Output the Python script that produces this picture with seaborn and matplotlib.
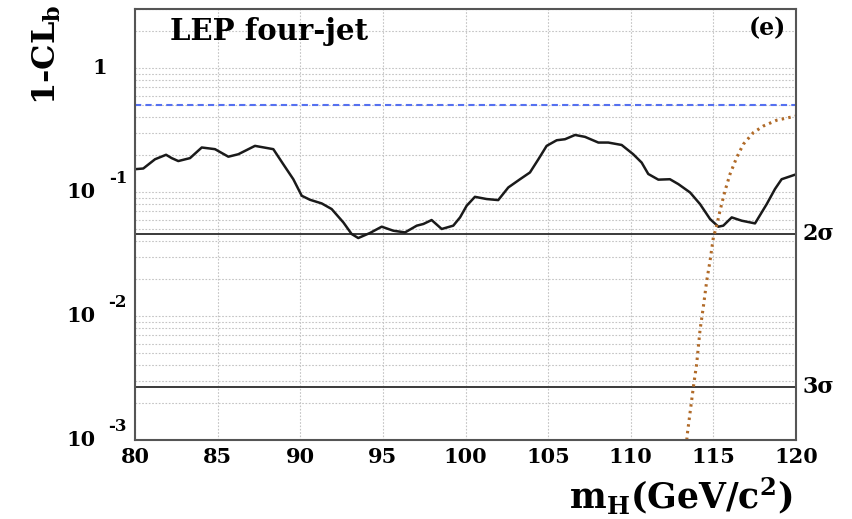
import matplotlib
matplotlib.use("Agg")
import matplotlib.pyplot as plt
import pandas as pd
import seaborn as sns
from matplotlib.ticker import LogLocator, MultipleLocator, NullFormatter, FixedLocator

# Observed 1-CLb versus Higgs mass
mass_obs = [80.00, 80.50, 81.21, 81.88, 82.22, 82.62, 83.33, 84.04, 84.84, 85.65,
            86.25, 87.26, 88.37, 88.97, 89.58, 90.09, 90.59, 91.30, 91.90, 92.61,
            93.11, 93.51, 94.22, 94.93, 95.63, 96.34, 97.05, 97.45, 97.95, 98.56,
            99.26, 99.67, 100.07, 100.57, 101.28, 101.98, 102.59, 103.30, 103.90, 104.41,
            104.91, 105.52, 106.02, 106.63, 107.23, 108.04, 108.64, 109.45, 110.15, 110.66,
            111.06, 111.67, 112.37, 112.88, 113.59, 114.19, 114.80, 115.30, 115.60, 116.11,
            116.71, 117.52, 118.23, 118.73, 119.13, 120.00]
clb_obs = [0.153, 0.155, 0.184, 0.200, 0.188, 0.178, 0.188, 0.229, 0.222, 0.193,
           0.202, 0.236, 0.222, 0.168, 0.127, 0.0934, 0.0867, 0.0810, 0.0730, 0.0569,
           0.0459, 0.0426, 0.0468, 0.0526, 0.0488, 0.0473, 0.0536, 0.0553, 0.0595, 0.0504,
           0.0536, 0.0625, 0.0776, 0.0916, 0.0879, 0.0862, 0.109, 0.127, 0.144, 0.184,
           0.236, 0.262, 0.267, 0.289, 0.279, 0.251, 0.251, 0.240, 0.202, 0.173,
           0.140, 0.126, 0.127, 0.116, 0.0993, 0.0801, 0.0606, 0.0526, 0.0536, 0.0625,
           0.0588, 0.0559, 0.0801, 0.106, 0.127, 0.139]

# Expected 1-CLb for a signal of mass 115 GeV
mass_sig = [113.39, 113.42, 113.79, 113.99, 114.19, 114.39, 114.60, 114.80, 115.00, 115.20,
            115.40, 115.70, 116.01, 116.41, 116.81, 117.42, 118.02, 118.83, 119.94, 120.00]
clb_sig = [0.00100, 0.00111, 0.00268, 0.00413, 0.00766, 0.0118, 0.0193, 0.0280, 0.0431, 0.0536,
           0.0707, 0.102, 0.140, 0.190, 0.243, 0.302, 0.341, 0.380, 0.409, 0.410]

median_level = 0.5
sigma_levels = [0.0455, 0.0027]
sigma_labels = ["2σ", "3σ"]
x_ticks = [80, 85, 90, 95, 100, 105, 110, 115, 120]
y_decades = [1.0, 0.1, 0.01, 0.001]
y_decade_labels = [("1", ""), ("10", "-1"), ("10", "-2"), ("10", "-3")]

sns.set_theme(style="white")
plt.rcParams["font.family"] = ["DejaVu Serif", "Liberation Serif"]
plt.rcParams["font.weight"] = "bold"
plt.rcParams["text.color"] = "black"
plt.rcParams["mathtext.fontset"] = "custom"
plt.rcParams["mathtext.rm"] = "DejaVu Serif:bold"
plt.rcParams["mathtext.default"] = "regular"

fig = plt.figure(figsize=(8.52, 5.19), dpi=100)
ax = fig.add_axes([135 / 852, 79 / 519, 661 / 852, 431 / 519])

df_obs = pd.DataFrame({"mass": mass_obs, "clb": clb_obs})
df_sig = pd.DataFrame({"mass": mass_sig, "clb": clb_sig})

ax.set_yscale("log")
ax.set_xlim(80, 120)
ax.set_ylim(1e-3, 3.0)

# grid
ax.xaxis.set_major_locator(FixedLocator(x_ticks))
ax.xaxis.set_minor_locator(MultipleLocator(1))
ax.yaxis.set_major_locator(LogLocator(base=10))
ax.yaxis.set_minor_locator(LogLocator(base=10, subs=range(2, 10)))
ax.yaxis.set_major_formatter(NullFormatter())
ax.yaxis.set_minor_formatter(NullFormatter())
ax.grid(True, axis="x", which="major", color="#c4c4c4", linestyle=(0, (1.5, 1.5)), linewidth=0.8)
ax.grid(True, axis="y", which="both", color="#c4c4c4", linestyle=(0, (1.5, 1.5)), linewidth=0.8)
ax.set_axisbelow(True)

ax.axhline(median_level, color="#5570f0", linestyle=(0, (3, 2)), linewidth=1.5)
for lvl in sigma_levels:
    ax.axhline(lvl, color="#3a3a3a", linewidth=1.4)

sns.lineplot(data=df_obs, x="mass", y="clb", color="#1a1a1a", linewidth=1.8,
             estimator=None, ax=ax)
sns.lineplot(data=df_sig, x="mass", y="clb", color="#b06a28", linewidth=2.2,
             linestyle=(0, (0.8, 1.4)), estimator=None, ax=ax)

ax.set_xlabel("")
ax.set_ylabel("")

for s in ax.spines.values():
    s.set_color("#555555")
    s.set_linewidth(1.5)

ax.tick_params(axis="x", which="major", direction="in", length=8, width=1, labelsize=15,
               pad=5, colors="#333333", labelcolor="black")
ax.tick_params(axis="x", which="minor", direction="in", length=4, width=0.8, colors="#555555")
ax.tick_params(axis="y", which="major", direction="in", length=8, width=1, colors="#333333")
ax.tick_params(axis="y", which="minor", direction="in", length=4, width=0.8, colors="#555555")
for lab in ax.get_xticklabels():
    lab.set_fontweight("bold")

# decade labels in the ROOT style: mantissa with raised exponent
ytr = ax.get_yaxis_transform()
for val, (base, expo) in zip(y_decades, y_decade_labels):
    if expo:
        ax.annotate(base, xy=(-0.082, val), xycoords=ytr, ha="center", va="center",
                    fontsize=15, fontweight="bold", color="black", annotation_clip=False)
        ax.annotate(expo, xy=(-0.026, val), xycoords=ytr, xytext=(0, 10),
                    textcoords="offset points", ha="center", va="center",
                    fontsize=12, fontweight="bold", color="black", annotation_clip=False)
    else:
        ax.annotate(base, xy=(-0.053, val), xycoords=ytr, ha="center", va="center",
                    fontsize=15, fontweight="bold", color="black", annotation_clip=False)

for lvl, lab in zip(sigma_levels, sigma_labels):
    ax.annotate(lab, xy=(1.01, lvl), xycoords=ytr, ha="left", va="center",
                fontsize=16, fontweight="bold", color="black", annotation_clip=False)

ax.text(0.053, 0.947, "LEP four-jet", transform=ax.transAxes, ha="left", va="center",
        fontsize=21, fontweight="bold", color="black")
ax.text(0.985, 0.955, "(e)", transform=ax.transAxes, ha="right", va="center",
        fontsize=17, fontweight="bold", color="black")

fig.text(47 / 852, 1 - 55 / 519, r"1-CL$_{b}$", rotation=90, ha="center", va="center",
         fontsize=23, fontweight="bold", color="black")
fig.text(793 / 852, 11 / 519, r"m$_{H}$(GeV/c$^{2}$)", ha="right", va="baseline",
         fontsize=25, fontweight="bold", color="black")

fig.savefig("out.png", dpi=100)
